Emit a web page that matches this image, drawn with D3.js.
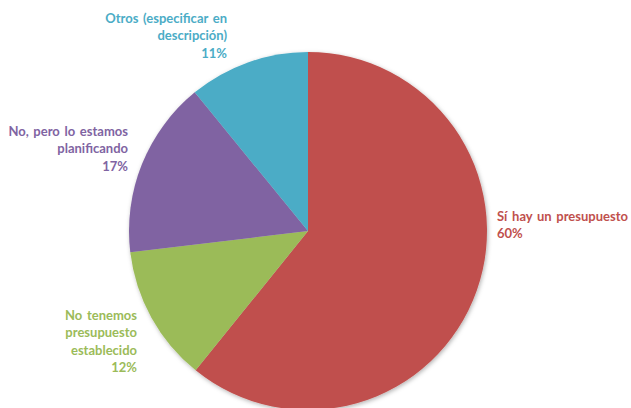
<!DOCTYPE html>
<html><head><meta charset="utf-8">
<script src="https://cdn.jsdelivr.net/npm/d3@7"></script>
<style>
html,body{margin:0;padding:0;background:#fff;}
svg{display:block;}
text{font-family:Lato,"Open Sans",sans-serif;font-weight:700;}
</style></head><body>
<svg id="chart" width="631" height="408"></svg>
<script>
// Data (clockwise from 12 o'clock)
const categories = ["Sí hay un presupuesto", "No tenemos presupuesto establecido", "No, pero lo estamos planificando", "Otros (especificar en descripción)"];
const values = [60.8, 12.3, 16.0, 10.9];
const percentLabels = ["60%", "12%", "17%", "11%"];
const colors = ["#C0504D", "#9BBB59", "#8064A2", "#4BACC6"];
const labelLines = [
  ["Sí hay un presupuesto", "60%"],
  ["No tenemos", "presupuesto", "establecido", "12%"],
  ["No, pero lo estamos", "planificando", "17%"],
  ["Otros (especificar en", "descripción)", "11%"]
];

// Layout
const cx = 308, cy = 231, R = 179;
const labelLayout = [
  {x: 497, y: 221, anchor: "start", lh: 16.5},
  {x: 137, y: 320, anchor: "end", lh: 17.3},
  {x: 128, y: 136, anchor: "end", lh: 17.3},
  {x: 227, y: 23, anchor: "end", lh: 17.3}
];

const svg = d3.select("#chart");
const defs = svg.append("defs");
const f = defs.append("filter").attr("id","sh").attr("x","-10%").attr("y","-10%").attr("width","120%").attr("height","120%");
f.append("feDropShadow").attr("dx",1).attr("dy",1.5).attr("stdDeviation",2.2).attr("flood-color","#000").attr("flood-opacity",0.3);

const pie = d3.pie().sort(null).value(d => d)(values);
const arc = d3.arc().innerRadius(0).outerRadius(R);

const g = svg.append("g").attr("transform", `translate(${cx},${cy})`);
g.append("g").attr("filter","url(#sh)")
  .selectAll("path").data(pie).join("path")
  .attr("d", arc)
  .attr("fill", (d,i) => colors[i]);

const lg = svg.append("g");
labelLines.forEach((lines, i) => {
  const L = labelLayout[i];
  const t = lg.append("text")
    .attr("text-anchor", L.anchor)
    .attr("fill", colors[i])
    .style("font-size", "13px")
    .style("word-spacing", "1.5px");
  lines.forEach((ln, j) => {
    t.append("tspan").attr("x", L.x).attr("y", L.y + j * L.lh).text(ln);
  });
});
</script>
</body></html>
